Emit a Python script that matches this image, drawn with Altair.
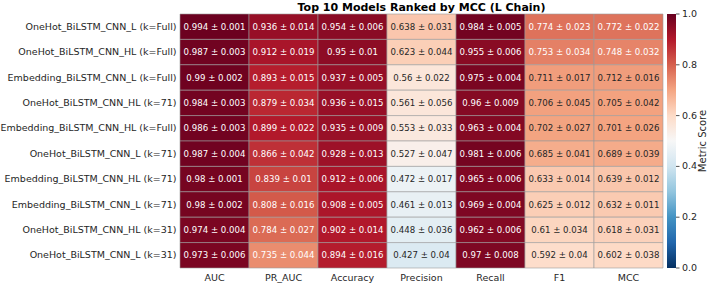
import altair as alt
import pandas as pd

models = [
    "OneHot_BiLSTM_CNN_L (k=Full)",
    "OneHot_BiLSTM_CNN_HL (k=Full)",
    "Embedding_BiLSTM_CNN_L (k=Full)",
    "OneHot_BiLSTM_CNN_HL (k=71)",
    "Embedding_BiLSTM_CNN_HL (k=Full)",
    "OneHot_BiLSTM_CNN_L (k=71)",
    "Embedding_BiLSTM_CNN_HL (k=71)",
    "Embedding_BiLSTM_CNN_L (k=71)",
    "OneHot_BiLSTM_CNN_HL (k=31)",
    "OneHot_BiLSTM_CNN_L (k=31)",
]
metrics = ["AUC", "PR_AUC", "Accuracy", "Precision", "Recall", "F1", "MCC"]

auc_mean = [0.994, 0.987, 0.99, 0.984, 0.986, 0.987, 0.98, 0.98, 0.974, 0.973]
auc_std = [0.001, 0.003, 0.002, 0.003, 0.003, 0.004, 0.001, 0.002, 0.004, 0.006]
prauc_mean = [0.936, 0.912, 0.893, 0.879, 0.899, 0.866, 0.839, 0.808, 0.784, 0.735]
prauc_std = [0.014, 0.019, 0.015, 0.034, 0.022, 0.042, 0.01, 0.016, 0.027, 0.044]
acc_mean = [0.954, 0.95, 0.937, 0.936, 0.935, 0.928, 0.912, 0.908, 0.902, 0.894]
acc_std = [0.006, 0.01, 0.005, 0.015, 0.009, 0.013, 0.006, 0.005, 0.014, 0.016]
prec_mean = [0.638, 0.623, 0.56, 0.561, 0.553, 0.527, 0.472, 0.461, 0.448, 0.427]
prec_std = [0.031, 0.044, 0.022, 0.056, 0.033, 0.047, 0.017, 0.013, 0.036, 0.04]
rec_mean = [0.984, 0.955, 0.975, 0.96, 0.963, 0.981, 0.965, 0.969, 0.962, 0.97]
rec_std = [0.005, 0.006, 0.004, 0.009, 0.004, 0.006, 0.006, 0.004, 0.006, 0.008]
f1_mean = [0.774, 0.753, 0.711, 0.706, 0.702, 0.685, 0.633, 0.625, 0.61, 0.592]
f1_std = [0.023, 0.034, 0.017, 0.045, 0.027, 0.041, 0.014, 0.012, 0.034, 0.04]
mcc_mean = [0.772, 0.748, 0.712, 0.705, 0.701, 0.689, 0.639, 0.632, 0.618, 0.602]
mcc_std = [0.022, 0.032, 0.016, 0.042, 0.026, 0.039, 0.012, 0.011, 0.031, 0.038]

colorbar_ticks = [0.0, 0.2, 0.4, 0.6, 0.8, 1.0]

means = [auc_mean, prauc_mean, acc_mean, prec_mean, rec_mean, f1_mean, mcc_mean]
stds = [auc_std, prauc_std, acc_std, prec_std, rec_std, f1_std, mcc_std]

rows = []
for metric, mean_col, std_col in zip(metrics, means, stds):
    for model, m, s in zip(models, mean_col, std_col):
        rows.append({"Model": model, "Metric": metric, "value": m,
                     "label": f"{m} \u00b1 {s}"})
df = pd.DataFrame(rows)
ticks_df = pd.DataFrame({"tick": colorbar_ticks})

# RdBu_r colour stops, linearly interpolated in RGB
rdbu_r = ["#053061", "#2166ac", "#4393c3", "#92c5de", "#d1e5f0", "#f7f7f7",
          "#fddbc7", "#f4a582", "#d6604d", "#b2182b", "#67001f"]
stops = [i / 10 for i in range(11)]

FONT = "DejaVu Sans"
INK = "#262626"
W, H = 483, 254

base = alt.Chart(df).encode(
    x=alt.X("Metric:N", sort=metrics, title=None,
            axis=alt.Axis(orient="bottom", labelAngle=0, domain=False, ticks=False,
                          labelPadding=4, labelFontSize=9.5, labelFont=FONT,
                          labelColor=INK)),
    y=alt.Y("Model:N", sort=models, title=None,
            axis=alt.Axis(domain=False, ticks=False, labelPadding=4,
                          labelFontSize=9.5, labelFont=FONT, labelColor=INK,
                          labelLimit=300)),
)

cells = base.mark_rect(stroke="#9a9a9a", strokeWidth=0.6).encode(
    color=alt.Color(
        "value:Q",
        scale=alt.Scale(domain=stops, range=rdbu_r, interpolate="rgb"),
        legend=alt.Legend(
            title=None, orient="none", legendX=W + 4, legendY=0,
            direction="vertical", gradientLength=H, gradientThickness=9,
            gradientStrokeWidth=0, values=colorbar_ticks, labelExpr="''",
            labelFontSize=1,
        ),
    )
)

texts = base.mark_text(font=FONT, fontSize=8.6).encode(
    text="label:N",
    color=alt.condition(alt.datum.value > 0.72, alt.value("white"), alt.value(INK)),
)

heatmap = alt.layer(cells, texts)

# colour-bar ticks and labels on a 0..1 vertical scale
cbar_y = alt.Y("tick:Q", scale=alt.Scale(domain=[0, 1]), axis=None)
cbar_ticks = alt.Chart(ticks_df).mark_rule(color=INK, strokeWidth=0.8).encode(
    y=cbar_y, x=alt.value(W + 13), x2=alt.value(W + 16.5)
)
cbar_labels = alt.Chart(ticks_df).mark_text(
    font=FONT, fontSize=9.5, color=INK, align="left", baseline="middle"
).encode(
    y=cbar_y, x=alt.value(W + 19), text=alt.Text("tick:Q", format=".1f")
)
colorbar = alt.layer(cbar_ticks, cbar_labels)

# rotated colour-bar caption
caption = alt.Chart(pd.DataFrame({"caption": ["Metric Score"]})).mark_text(
    font=FONT, fontSize=10, color=INK, angle=270, baseline="middle", align="center"
).encode(
    text="caption:N",
    x=alt.value(W + 40),
    y=alt.value(H / 2),
)

chart = (
    alt.layer(heatmap, colorbar, caption)
    .resolve_scale(y="independent")
    .properties(
        width=W,
        height=H,
        title=alt.TitleParams("Top 10 Models Ranked by MCC (L Chain)", fontSize=11,
                              font=FONT, fontWeight="bold", anchor="middle",
                              color="black", offset=1, dy=5),
        autosize=alt.AutoSizeParams(type="none"),
        padding={"left": 180, "top": 14, "right": 45, "bottom": 16},
    )
    .configure_view(stroke=None)
)

chart.save("out.html", embed_options={"renderer": "svg", "actions": False})
